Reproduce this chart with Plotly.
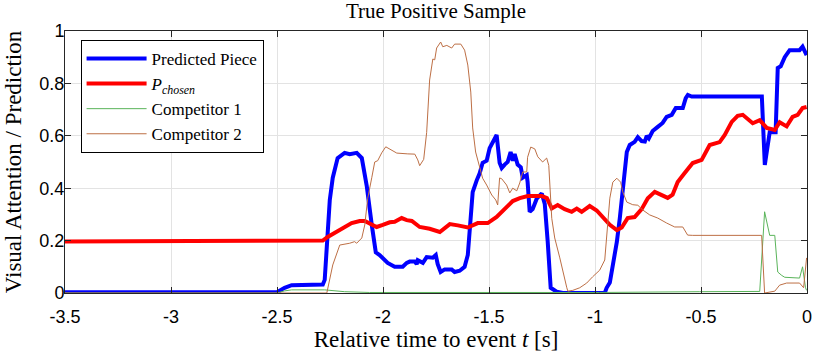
import plotly.graph_objects as go

# ---- data ---------------------------------------------------------------
t_pred = [-3.5, -2.5, -2.464, -2.431, -2.284, -2.275, -2.251, -2.237, -2.214, -2.181,
          -2.157, -2.124, -2.100, -2.077, -2.053, -2.034, -2.016, -1.978, -1.945, -1.907,
          -1.888, -1.874, -1.850, -1.841, -1.836, -1.812, -1.794, -1.765, -1.751, -1.742,
          -1.728, -1.709, -1.676, -1.662, -1.638, -1.615, -1.600, -1.591, -1.577, -1.558,
          -1.544, -1.530, -1.511, -1.497, -1.483, -1.464, -1.450, -1.440, -1.426, -1.412,
          -1.398, -1.388, -1.379, -1.365, -1.350, -1.341, -1.332, -1.322, -1.318, -1.308,
          -1.294, -1.275, -1.251, -1.237, -1.223, -1.209, -1.181, -1.152, -0.954, -0.945,
          -0.930, -0.916, -0.897, -0.883, -0.869, -0.850, -0.836, -0.813, -0.798, -0.780,
          -0.765, -0.756, -0.746, -0.728, -0.704, -0.681, -0.662, -0.638, -0.619, -0.586,
          -0.572, -0.562, -0.544, -0.213, -0.199, -0.176, -0.148, -0.138, -0.124, -0.105,
          -0.082, -0.035, -0.021, -0.002]
v_pred = [0.003, 0.003, 0.02, 0.03, 0.032, 0.05, 0.355, 0.44, 0.515, 0.535,
          0.53, 0.535, 0.515, 0.41, 0.26, 0.155, 0.145, 0.115, 0.10, 0.10,
          0.115, 0.12, 0.12, 0.11, 0.125, 0.115, 0.137, 0.135, 0.145, 0.11,
          0.08, 0.09, 0.09, 0.08, 0.085, 0.10, 0.145, 0.26, 0.385, 0.43,
          0.457, 0.497, 0.505, 0.553, 0.572, 0.603, 0.497, 0.477, 0.49, 0.50,
          0.538, 0.505, 0.53, 0.49, 0.48, 0.44, 0.445, 0.45, 0.425, 0.31,
          0.32, 0.36, 0.38, 0.34, 0.195, 0.02, 0.005, 0.0, 0.0, 0.02,
          0.04, 0.107, 0.195, 0.285, 0.40, 0.538, 0.565, 0.577, 0.595, 0.58,
          0.578, 0.60, 0.59, 0.618, 0.634, 0.649, 0.672, 0.68, 0.706, 0.706,
          0.744, 0.756, 0.75, 0.75, 0.489, 0.614, 0.614, 0.859, 0.865, 0.90,
          0.927, 0.927, 0.94, 0.908]

t_chosen = [-3.5, -3.006, -2.5, -2.284, -2.261, -2.218, -2.190, -2.148, -2.110, -2.086,
            -2.063, -2.030, -2.001, -1.968, -1.945, -1.912, -1.888, -1.864, -1.827, -1.780,
            -1.732, -1.685, -1.647, -1.600, -1.553, -1.506, -1.464, -1.426, -1.388, -1.355,
            -1.317, -1.294, -1.251, -1.227, -1.204, -1.176, -1.143, -1.110, -1.086, -1.063,
            -1.025, -0.992, -0.964, -0.930, -0.897, -0.874, -0.846, -0.813, -0.780, -0.751,
            -0.718, -0.685, -0.657, -0.634, -0.610, -0.577, -0.539, -0.497, -0.459, -0.412,
            -0.388, -0.355, -0.327, -0.303, -0.280, -0.256, -0.223, -0.190, -0.152, -0.129,
            -0.096, -0.068, -0.044, -0.021, -0.002]
v_chosen = [0.197, 0.197, 0.197, 0.200, 0.214, 0.233, 0.245, 0.267, 0.275, 0.275,
            0.265, 0.252, 0.26, 0.27, 0.272, 0.286, 0.278, 0.275, 0.252, 0.245,
            0.233, 0.263, 0.258, 0.25, 0.267, 0.267, 0.29, 0.32, 0.351, 0.362,
            0.37, 0.37, 0.37, 0.362, 0.323, 0.336, 0.32, 0.31, 0.322, 0.31,
            0.332, 0.315, 0.29, 0.26, 0.24, 0.25, 0.286, 0.29, 0.32, 0.362,
            0.386, 0.374, 0.363, 0.375, 0.424, 0.458, 0.496, 0.508, 0.565, 0.576,
            0.603, 0.653, 0.676, 0.68, 0.665, 0.648, 0.66, 0.63, 0.622, 0.652,
            0.636, 0.672, 0.68, 0.706, 0.71]

t_comp1 = [-3.5, -2.5, -2.464, -2.431, -2.275, -2.181, -2.063, -1.5, -0.978, -0.506,
           -0.223, -0.200, -0.176, -0.152, -0.138, -0.119, -0.105, -0.035, -0.021, -0.007,
           -0.002]
v_comp1 = [0.0, 0.0, 0.008, 0.012, 0.012, 0.005, 0.002, 0.001, 0.002, 0.005,
           0.006, 0.31, 0.22, 0.22, 0.08, 0.067, 0.06, 0.057, 0.10, 0.02,
           0.01]

t_comp2 = [-3.5, -2.265, -2.237, -2.204, -2.157, -2.134, -2.124, -2.100, -2.086, -2.072,
           -2.053, -2.039, -2.025, -2.006, -1.987, -1.968, -1.935, -1.883, -1.850, -1.836,
           -1.827, -1.808, -1.794, -1.780, -1.765, -1.756, -1.747, -1.728, -1.718, -1.699,
           -1.676, -1.662, -1.633, -1.615, -1.600, -1.586, -1.577, -1.563, -1.544, -1.530,
           -1.511, -1.487, -1.468, -1.459, -1.450, -1.440, -1.417, -1.402, -1.388, -1.369,
           -1.355, -1.341, -1.322, -1.318, -1.303, -1.284, -1.270, -1.247, -1.228, -1.218,
           -1.204, -1.190, -1.166, -1.152, -1.133, -1.128, -1.105, -1.072, -1.039, -1.011,
           -0.978, -0.954, -0.940, -0.930, -0.916, -0.897, -0.879, -0.869, -0.850, -0.822,
           -0.798, -0.775, -0.742, -0.704, -0.662, -0.624, -0.586, -0.563, -0.539, -0.214,
           -0.200, -0.152, -0.129, -0.096, -0.035, -0.016, -0.002]
v_comp2 = [0.0, 0.0, 0.107, 0.183, 0.19, 0.196, 0.19, 0.21, 0.26, 0.362,
           0.44, 0.50, 0.505, 0.535, 0.558, 0.55, 0.534, 0.531, 0.53, 0.508,
           0.486, 0.51, 0.613, 0.813, 0.893, 0.89, 0.935, 0.958, 0.94, 0.945,
           0.935, 0.95, 0.95, 0.927, 0.87, 0.767, 0.63, 0.538, 0.481, 0.438,
           0.412, 0.374, 0.355, 0.336, 0.439, 0.436, 0.412, 0.382, 0.40, 0.39,
           0.42, 0.462, 0.462, 0.518, 0.557, 0.55, 0.52, 0.50, 0.515, 0.487,
           0.285, 0.21, 0.134, 0.081, 0.02, 0.007, 0.01, 0.02, 0.038, 0.062,
           0.087, 0.126, 0.26, 0.362, 0.423, 0.438, 0.423, 0.386, 0.347, 0.337,
           0.335, 0.317, 0.298, 0.286, 0.267, 0.252, 0.252, 0.221, 0.22, 0.22,
           0.0, 0.007, 0.03, 0.038, 0.038, 0.02, 0.134]

x_tickvals = [-3.5, -3, -2.5, -2, -1.5, -1, -0.5, 0]
x_ticktext = ["-3.5", "-3", "-2.5", "-2", "-1.5", "-1", "-0.5", "0"]
y_tickvals = [0, 0.2, 0.4, 0.6, 0.8, 1]
y_ticktext = ["0", "0.2", "0.4", "0.6", "0.8", "1"]

SERIF = "Liberation Serif, Times New Roman, serif"
SANS = "Liberation Sans, Arial, sans-serif"
AXIS_COLOR = "#262626"
GRID_COLOR = "#e3e3e3"

fig = go.Figure()
fig.add_trace(go.Scatter(x=t_pred, y=v_pred, name="Predicted Piece", mode="lines",
                         line=dict(color="#0000ff", width=4)))
fig.add_trace(go.Scatter(x=t_chosen, y=v_chosen, name="<i>P<sub>chosen</sub></i>", mode="lines",
                         line=dict(color="#ff0000", width=4)))
fig.add_trace(go.Scatter(x=t_comp1, y=v_comp1, name="Competitor 1", mode="lines",
                         line=dict(color="#5ab45a", width=1)))
fig.add_trace(go.Scatter(x=t_comp2, y=v_comp2, name="Competitor 2", mode="lines",
                         line=dict(color="#bd6f45", width=1)))

axis_common = dict(
    showline=True, linecolor=AXIS_COLOR, linewidth=1, mirror="ticks",
    ticks="inside", ticklen=6, tickcolor=AXIS_COLOR, tickwidth=1,
    showgrid=True, gridcolor=GRID_COLOR, gridwidth=1, zeroline=False,
    automargin=False,
    tickfont=dict(family=SANS, size=18, color="#000000"),
    title_font=dict(family=SERIF, size=23, color="#000000"),
)

fig.update_xaxes(range=[-3.5, 0], tickmode="array", tickvals=x_tickvals, ticktext=x_ticktext,
                 ticklabelstandoff=7,
                 title_text="Relative time to event <i>t</i> [s]", title_standoff=2,
                 **axis_common)
fig.update_yaxes(range=[0, 1], tickmode="array", tickvals=y_tickvals, ticktext=y_ticktext,
                 ticklabelstandoff=-4,
                 title_text="Visual Attention / Prediction", title_standoff=11,
                 **axis_common)

fig.update_layout(
    width=822, height=353,
    margin=dict(l=65, r=15, t=31, b=60, autoexpand=False),
    plot_bgcolor="white", paper_bgcolor="white",
    title=dict(text="True Positive Sample", x=0.5, xref="paper", xanchor="center",
               y=1 - 11 / 353, yref="container", yanchor="middle",
               font=dict(family=SERIF, size=21, color="#000000")),
    legend=dict(x=0.021, y=0.966, xanchor="left", yanchor="top",
                bgcolor="white", bordercolor="#000000", borderwidth=1,
                font=dict(family=SERIF, size=17, color="#000000"),
                itemwidth=60, tracegroupgap=0),
    showlegend=True,
)

# drop the browser's default 8px body margin so the figure sits at the page corner
fig.write_html("out.html", config={"displayModeBar": False},
               post_script="document.body.style.margin='0';")
